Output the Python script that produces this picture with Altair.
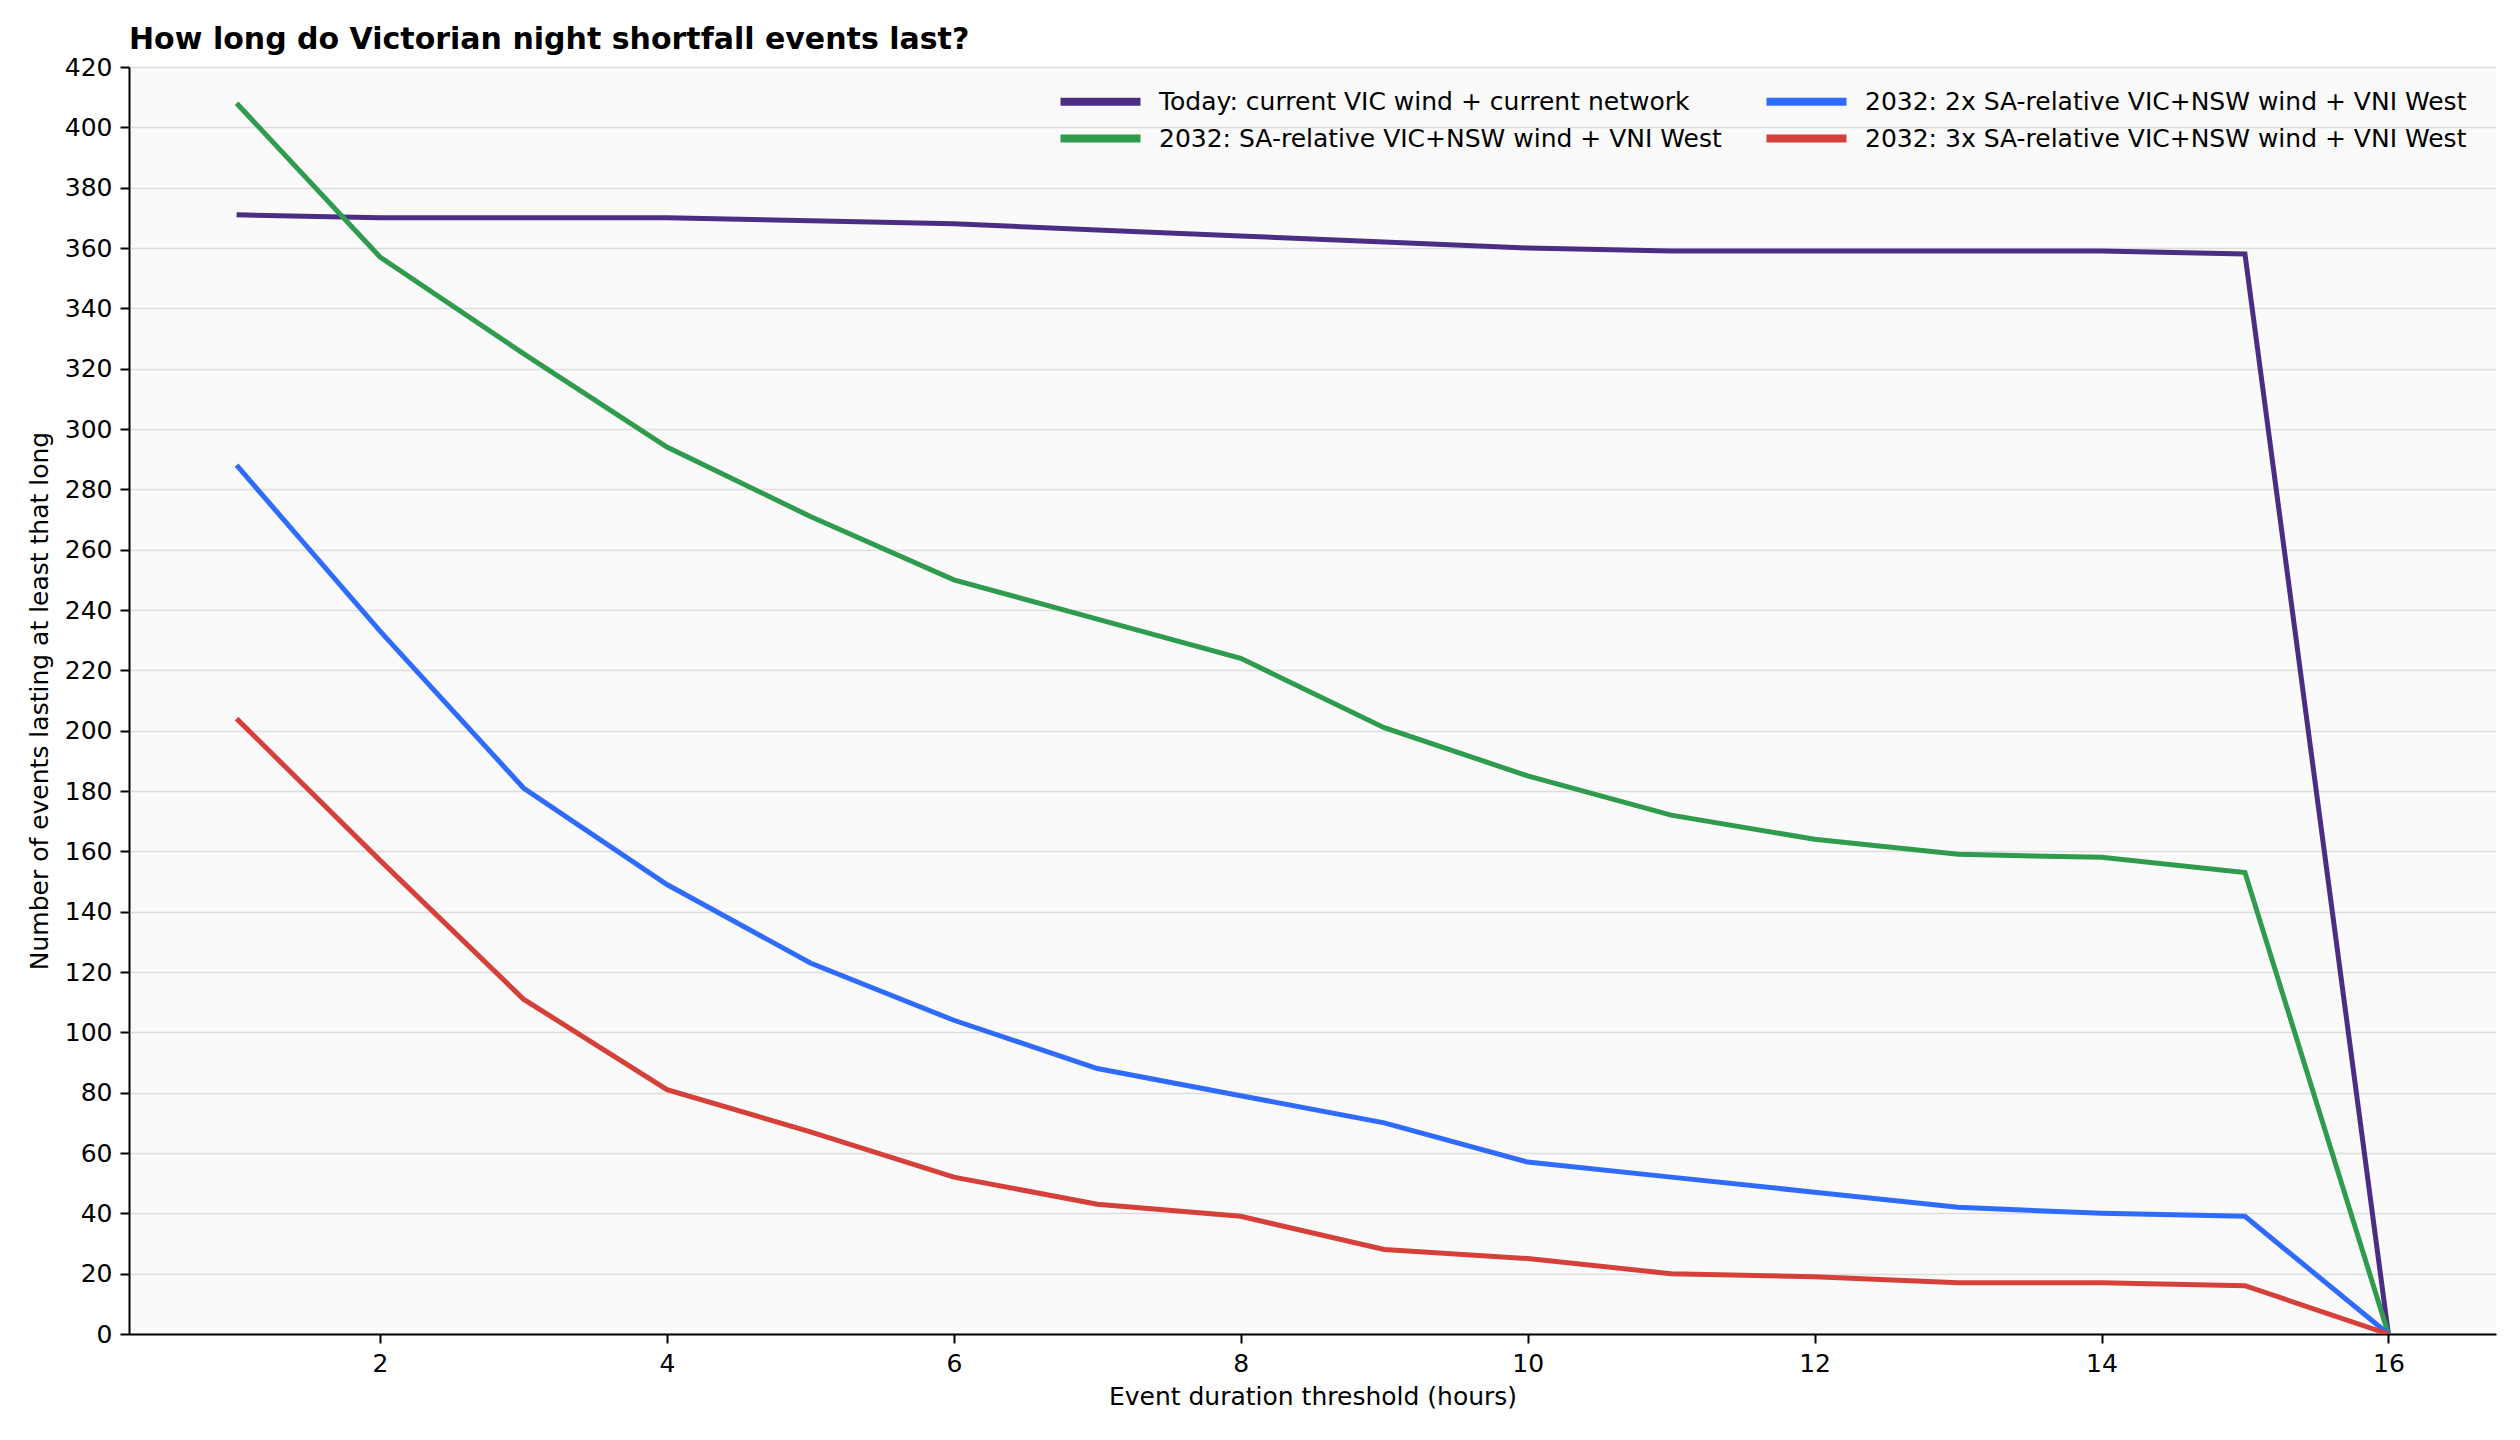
import altair as alt
import pandas as pd

hours = list(range(1, 17))
today = [371, 370, 370, 370, 369, 368, 366, 364, 362, 360, 359, 359, 359, 359, 358, 0]
sa_rel = [408, 357, 325, 294, 271, 250, 237, 224, 201, 185, 172, 164, 159, 158, 153, 0]
sa_2x = [288, 233, 181, 149, 123, 104, 88, 79, 70, 57, 52, 47, 42, 40, 39, 0]
sa_3x = [204, 157, 111, 81, 67, 52, 43, 39, 28, 25, 20, 19, 17, 17, 16, 0]

names = [
    "Today: current VIC wind + current network",
    "2032: SA-relative VIC+NSW wind + VNI West",
    "2032: 2x SA-relative VIC+NSW wind + VNI West",
    "2032: 3x SA-relative VIC+NSW wind + VNI West",
]
colors = ["#4b2e83", "#2e9b4d", "#2f6bff", "#d6403a"]
series = [today, sa_rel, sa_2x, sa_3x]

rows = []
for i, (n, vals) in enumerate(zip(names, series)):
    for h, v in zip(hours, vals):
        rows.append({"hours": h, "events": v, "scenario": n, "order": i})
df = pd.DataFrame(rows)

FONT = "DejaVu Sans"

chart = alt.Chart(df).mark_line(strokeWidth=5, clip=True).encode(
    x=alt.X("hours:Q",
            scale=alt.Scale(domain=[0.25, 16.75], nice=False, zero=False),
            axis=alt.Axis(values=[2, 4, 6, 8, 10, 12, 14, 16], grid=False,
                          title="Event duration threshold (hours)",
                          titlePadding=8)),
    y=alt.Y("events:Q",
            scale=alt.Scale(domain=[0, 420], nice=False),
            axis=alt.Axis(values=list(range(0, 421, 20)), grid=True,
                          title="Number of events lasting at least that long",
                          titlePadding=12)),
    color=alt.Color("scenario:N",
                    scale=alt.Scale(domain=names, range=colors),
                    legend=alt.Legend(title=None, orient="none",
                                      legendX=919, legendY=22, columns=2,
                                      symbolType="M0,0L16,0", symbolSize=100,
                                      symbolStrokeWidth=8, labelFontSize=25,
                                      labelFont=FONT, labelColor="black",
                                      labelOffset=86, columnPadding=28,
                                      rowPadding=4, padding=0,
                                      labelLimit=1000)),
    detail="order:N",
).properties(
    width=2367,
    height=1267,
    background="white",
    title=alt.Title("How long do Victorian night shortfall events last?",
                    anchor="start", frame="group", fontSize=30, font=FONT,
                    fontWeight="bold", color="black", offset=0),
    padding={"left": 19, "top": 17, "right": 5, "bottom": 5},
).configure_view(
    fill="#fafafa", stroke=None
).configure_axis(
    labelFont=FONT, titleFont=FONT, labelFontSize=25, titleFontSize=25,
    labelColor="black", titleColor="black", titleFontWeight="normal",
    domainColor="black", domainWidth=2, tickColor="black", tickWidth=2,
    tickSize=9, labelPadding=8, gridColor="#dddddd", gridWidth=1.6,
    labelFlush=False,
)

chart.save("out.html", embed_options={"renderer": "svg", "actions": False})
